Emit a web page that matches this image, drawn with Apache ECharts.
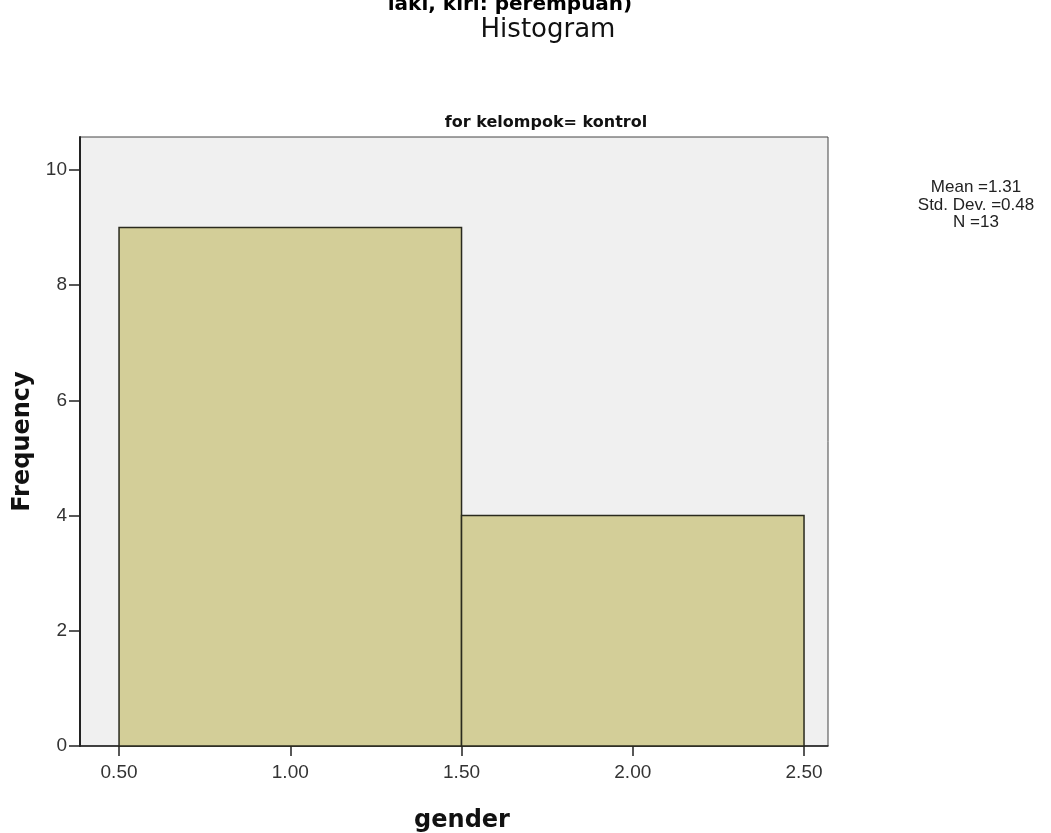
<!DOCTYPE html>
<html>
<head>
<meta charset="utf-8">
<script src="https://cdn.jsdelivr.net/npm/echarts@6/dist/echarts.min.js"></script>
<style>html,body{margin:0;padding:0;background:#fff;}#c{width:1051px;height:833px;}</style>
</head>
<body>
<div id="c"></div>
<script>
const binStarts = [0.5, 1.5];
const binEnds = [1.5, 2.5];
const frequencies = [9, 4];
const xTicks = [0.5, 1.0, 1.5, 2.0, 2.5];
const yTicks = [0, 2, 4, 6, 8, 10];
const statsLines = ['Mean =1.31', 'Std. Dev. =0.48', 'N =13'];

const data = binStarts.map((s, i) => [s, binEnds[i], frequencies[i]]);
const sans = 'Liberation Sans, Arial, sans-serif';
const wide = 'DejaVu Sans, Verdana, sans-serif';

const chart = echarts.init(document.getElementById('c'));
chart.setOption({
  animation: false,
  backgroundColor: '#fff',
  grid: {
    left: 80, top: 137, right: 223, bottom: 87,
    outerBoundsMode: 'none', containLabel: false,
    show: true, backgroundColor: '#F0F0F0', borderColor: '#444', borderWidth: 1
  },
  xAxis: {
    type: 'value', min: 0.386, max: 2.57,
    name: 'gender', nameLocation: 'middle', nameGap: 63,
    nameTextStyle: { fontFamily: wide, fontSize: 24, fontWeight: 'bold', color: '#111', padding: [0, 0, 0, 16] },
    axisLine: { show: true, lineStyle: { color: '#222', width: 1.5 } },
    axisTick: { show: true, length: 10, customValues: xTicks, lineStyle: { color: '#222', width: 1.5 } },
    axisLabel: { customValues: xTicks, formatter: v => v.toFixed(2), fontFamily: sans, fontSize: 19, color: '#333', margin: 17 },
    splitLine: { show: false }
  },
  yAxis: {
    type: 'value', min: 0, max: 10.57,
    name: 'Frequency', nameLocation: 'middle', nameGap: 41,
    nameTextStyle: { fontFamily: wide, fontSize: 24, fontWeight: 'bold', color: '#111' },
    axisLine: { show: true, lineStyle: { color: '#222', width: 2 } },
    axisTick: { show: true, length: 11, customValues: yTicks, lineStyle: { color: '#222', width: 1.5 } },
    axisLabel: { customValues: yTicks, fontFamily: sans, fontSize: 19, color: '#333', margin: 13 },
    splitLine: { show: false }
  },
  graphic: [
    { type: 'text', x: 510, y: 5, style: { text: 'laki, kiri: perempuan)', font: 'bold 20px ' + wide, fill: '#000', align: 'center', verticalAlign: 'middle' } },
    { type: 'text', x: 548, y: 30, style: { text: 'Histogram', font: '26px ' + wide, fill: '#111', align: 'center', verticalAlign: 'middle' } },
    { type: 'text', x: 546, y: 123, style: { text: 'for kelompok= kontrol', font: 'bold 16px ' + wide, fill: '#111', align: 'center', verticalAlign: 'middle' } },
    { type: 'text', x: 976, y: 205, style: { text: statsLines.join('\n'), font: '17px ' + sans, fill: '#222', align: 'center', verticalAlign: 'middle', lineHeight: 17.5 } }
  ],
  series: [{
    type: 'custom',
    data: data,
    encode: { x: [0, 1], y: 2 },
    renderItem: function (params, api) {
      const p0 = api.coord([api.value(0), api.value(2)]);
      const p1 = api.coord([api.value(1), 0]);
      return {
        type: 'rect',
        shape: { x: p0[0], y: p0[1], width: p1[0] - p0[0], height: p1[1] - p0[1] },
        style: { fill: '#D3CE98', stroke: '#2a2a1e', lineWidth: 1.5 }
      };
    }
  }]
});
</script>
</body>
</html>
